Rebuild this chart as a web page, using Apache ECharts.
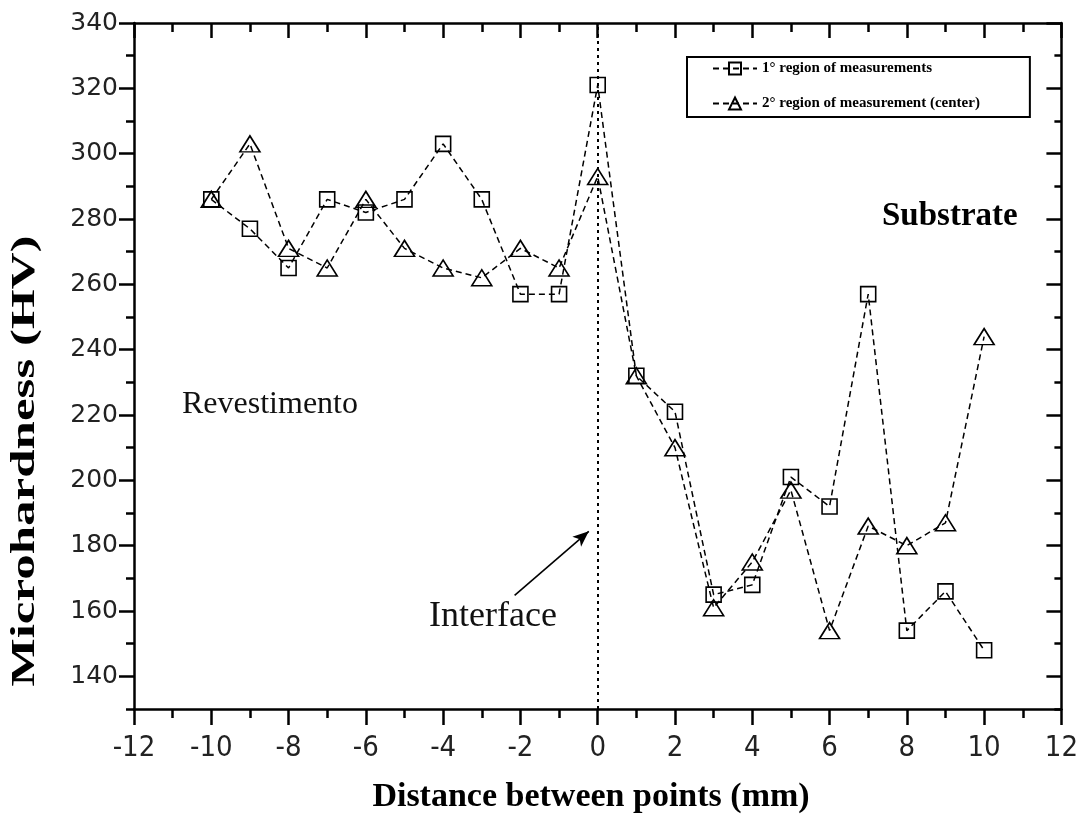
<!DOCTYPE html>
<html>
<head>
<meta charset="utf-8">
<script src="https://cdn.jsdelivr.net/npm/echarts@6/dist/echarts.min.js"></script>
<style>
  html, body { margin: 0; padding: 0; background: #fff; }
  #chart { width: 1081px; height: 814px; }
</style>
</head>
<body>
<div id="chart"></div>
<script>
// distance between points (mm)
const distances = [-10, -9, -8, -7, -6, -5, -4, -3, -2, -1, 0, 1, 2, 3, 4, 5, 6, 7, 8, 9, 10];
// microhardness (HV)
const region1 = [286, 277, 265, 286, 282, 286, 303, 286, 257, 257, 321, 232, 221, 165, 168, 201, 192, 257, 154, 166, 148];
const region2 = [286, 303, 271, 265, 286, 271, 265, 262, 271, 265, 293, 232, 210, 161, 175, 197, 154, 186, 180, 187, 244];
const seriesNames = ['1° region of measurements', '2° region of measurement (center)'];
const yTicks = [140, 160, 180, 200, 220, 240, 260, 280, 300, 320, 340];
// arrow pointing at the interface, in data units
const arrowFrom = [-2.15, 164.8];
const arrowTo = [-0.23, 184.4];

const chart = echarts.init(document.getElementById('chart'));

const lineW = 2.5;
const serif = 'Liberation Serif';

function pairs(ys) {
    return distances.map((x, i) => [x, ys[i]]);
}

const hidden = { show: false };

const option = {
    animation: false,
    backgroundColor: '#fff',
    grid: { left: 134, right: 19, top: 23, bottom: 105 },
    legend: {
        orient: 'vertical',
        left: 687,
        top: 57,
        itemWidth: 44,
        itemHeight: 15,
        itemGap: 20,
        padding: [4, 50, 6, 25],
        borderColor: '#000',
        borderWidth: 2,
        textStyle: { fontFamily: serif, fontWeight: 'bold', fontSize: 15, color: '#000' },
        data: seriesNames
    },
    xAxis: [
        {
            type: 'value', position: 'bottom', min: -12, max: 12, interval: 2,
            splitLine: hidden,
            axisLine: { onZero: false, lineStyle: { color: '#000', width: lineW } },
            axisTick: { length: 16, lineStyle: { color: '#000', width: lineW } },
            minorTick: { show: true, splitNumber: 2, length: 9, lineStyle: { color: '#000', width: lineW } },
            axisLabel: {
                margin: 25, color: '#222', fontSize: 29,
                fontFamily: 'Liberation Sans Narrow, DejaVu Sans Condensed, sans-serif'
            }
        },
        {
            type: 'value', position: 'top', min: -12, max: 12, interval: 2,
            splitLine: hidden, axisLabel: hidden,
            axisLine: { onZero: false, lineStyle: { color: '#000', width: lineW } },
            axisTick: { inside: true, length: 15, lineStyle: { color: '#000', width: lineW } },
            minorTick: { show: true, splitNumber: 2, length: 9, lineStyle: { color: '#000', width: lineW } }
        }
    ],
    yAxis: [
        {
            // minor ticks every 10 HV
            type: 'value', position: 'left', min: 130, max: 340, interval: 10,
            splitLine: hidden, axisLabel: hidden,
            axisLine: { onZero: false, lineStyle: { color: '#000', width: lineW } },
            axisTick: { length: 8, lineStyle: { color: '#000', width: lineW } }
        },
        {
            type: 'value', position: 'left', min: 130, max: 340,
            splitLine: hidden,
            axisLine: { show: false, onZero: false },
            axisTick: { customValues: yTicks, length: 15, lineStyle: { color: '#000', width: lineW } },
            axisLabel: {
                customValues: yTicks, margin: 16, color: '#222', fontSize: 25,
                fontFamily: 'DejaVu Sans, sans-serif'
            }
        },
        {
            type: 'value', position: 'right', min: 130, max: 340, interval: 10,
            splitLine: hidden, axisLabel: hidden,
            axisLine: { onZero: false, lineStyle: { color: '#000', width: lineW } },
            axisTick: { inside: true, length: 7, lineStyle: { color: '#000', width: lineW } }
        },
        {
            type: 'value', position: 'right', min: 130, max: 340,
            splitLine: hidden, axisLabel: { show: false, customValues: yTicks },
            axisLine: { show: false, onZero: false },
            axisTick: { customValues: yTicks, inside: true, length: 15, lineStyle: { color: '#000', width: lineW } }
        }
    ],
    series: [
        {
            name: seriesNames[0],
            type: 'line',
            data: pairs(region1),
            symbol: 'rect',
            symbolSize: 15,
            itemStyle: { color: 'rgba(255,255,255,0)', borderColor: '#000', borderWidth: 1.6 },
            lineStyle: { color: '#000', width: 1.5, type: [6, 4] },
            z: 3,
            markLine: {
                silent: true,
                symbol: 'none',
                label: { show: false },
                lineStyle: { color: '#000', width: 2, type: [3, 4] },
                data: [{ xAxis: 0 }]
            }
        },
        {
            name: seriesNames[1],
            type: 'line',
            data: pairs(region2),
            symbol: 'triangle',
            symbolSize: [20, 16],
            itemStyle: { color: 'rgba(255,255,255,0)', borderColor: '#000', borderWidth: 1.6 },
            lineStyle: { color: '#000', width: 1.5, type: [6, 4] },
            z: 3,
            markLine: {
                silent: true,
                symbol: ['none', 'arrow'],
                symbolSize: [10, 16],
                label: { show: false },
                lineStyle: { color: '#000', width: 1.6, type: 'solid' },
                data: [[{ coord: arrowFrom }, { coord: arrowTo }]]
            }
        }
    ],
    graphic: [
        {
            type: 'text', x: 25, y: 461, rotation: Math.PI / 2, scaleX: 1.5,
            style: {
                text: 'Microhardness (HV)', fill: '#000',
                font: 'bold 34px ' + serif, textAlign: 'center', textVerticalAlign: 'middle'
            }
        },
        {
            type: 'text', x: 591, y: 797,
            style: {
                text: 'Distance between points (mm)', fill: '#000',
                font: 'bold 34px ' + serif, textAlign: 'center', textVerticalAlign: 'middle'
            }
        },
        {
            type: 'text', x: 182, y: 405,
            style: {
                text: 'Revestimento', fill: '#111',
                font: '32px ' + serif, textAlign: 'left', textVerticalAlign: 'middle'
            }
        },
        {
            type: 'text', x: 882, y: 216,
            style: {
                text: 'Substrate', fill: '#000',
                font: 'bold 33px ' + serif, textAlign: 'left', textVerticalAlign: 'middle'
            }
        },
        {
            type: 'text', x: 429, y: 617,
            style: {
                text: 'Interface', fill: '#111',
                font: '36px ' + serif, textAlign: 'left', textVerticalAlign: 'middle'
            }
        }
    ]
};

chart.setOption(option);
</script>
</body>
</html>
